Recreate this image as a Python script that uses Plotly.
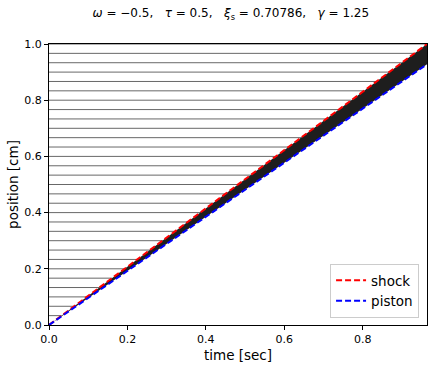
import numpy as np
import plotly.graph_objects as go

# --- data ---
time = [0.0, 0.2, 0.4, 0.6, 0.8, 0.964]
shock = [0.0, 0.207, 0.413, 0.622, 0.830, 1.0]
piston = [0.0, 0.193, 0.385, 0.578, 0.770, 0.928]
particle_start = [k / 30 for k in range(1, 31)]

x_ticks = [0.0, 0.2, 0.4, 0.6, 0.8]
y_ticks = [0.0, 0.2, 0.4, 0.6, 0.8, 1.0]

fig = go.Figure()

# particle paths ahead of the shock (at rest until the shock arrives)
for y0 in particle_start:
    t_hit = float(np.interp(y0, shock, time))
    fig.add_trace(go.Scatter(x=[0, t_hit], y=[y0, y0], mode="lines",
                             line=dict(color="rgba(40,40,40,0.7)", width=1),
                             showlegend=False, hoverinfo="skip"))

# compressed layer between piston and shock (dense particle paths)
fig.add_trace(go.Scatter(x=time, y=piston, mode="lines", line=dict(width=0),
                         showlegend=False, hoverinfo="skip"))
fig.add_trace(go.Scatter(x=time, y=shock, mode="lines", line=dict(width=0),
                         fill="tonexty", fillcolor="#1e1e1e",
                         showlegend=False, hoverinfo="skip"))

fig.add_trace(go.Scatter(x=time, y=shock, mode="lines", name="shock",
                         line=dict(color="red", width=2, dash="6px,3px")))
fig.add_trace(go.Scatter(x=time, y=piston, mode="lines", name="piston",
                         line=dict(color="blue", width=2, dash="6px,3px")))

axis_common = dict(showline=True, mirror=True, linecolor="black", linewidth=1,
                   ticks="outside", ticklen=4, tickcolor="black", tickwidth=1,
                   showgrid=False, zeroline=False, automargin=False,
                   tickfont=dict(family="DejaVu Sans", size=11, color="black"))

fig.update_layout(
    width=434, height=368,
    margin=dict(l=49, r=7, t=44, b=43),
    plot_bgcolor="white", paper_bgcolor="white",
    font=dict(family="DejaVu Sans", color="black"),
    title=dict(text="<i>ω</i> = −0.5,   <i>τ</i> = 0.5,   <i>ξ</i><sub>s</sub> = 0.70786,   <i>γ</i> = 1.25",
               x=0.481, xref="paper", xanchor="center", y=0.965, yanchor="middle",
               font=dict(family="DejaVu Sans", size=12, color="black")),
    xaxis=dict(range=[0, 0.964], tickvals=x_ticks, tickformat=".1f",
               title=dict(text="time [sec]", font=dict(size=13.5), standoff=5),
               **axis_common),
    yaxis=dict(range=[0, 1.0], tickvals=y_ticks, tickformat=".1f",
               title=dict(text="position [cm]", font=dict(size=13.5), standoff=2),
               **axis_common),
    legend=dict(x=0.979, y=0.025, xanchor="right", yanchor="bottom",
                traceorder="normal",
                bgcolor="rgba(255,255,255,0.9)", bordercolor="#cccccc", borderwidth=1,
                font=dict(size=13.5, family="DejaVu Sans")),
)

fig.write_html("out.html", config={"displayModeBar": False},
               post_script="document.body.style.margin='0';document.body.style.overflow='hidden';")
